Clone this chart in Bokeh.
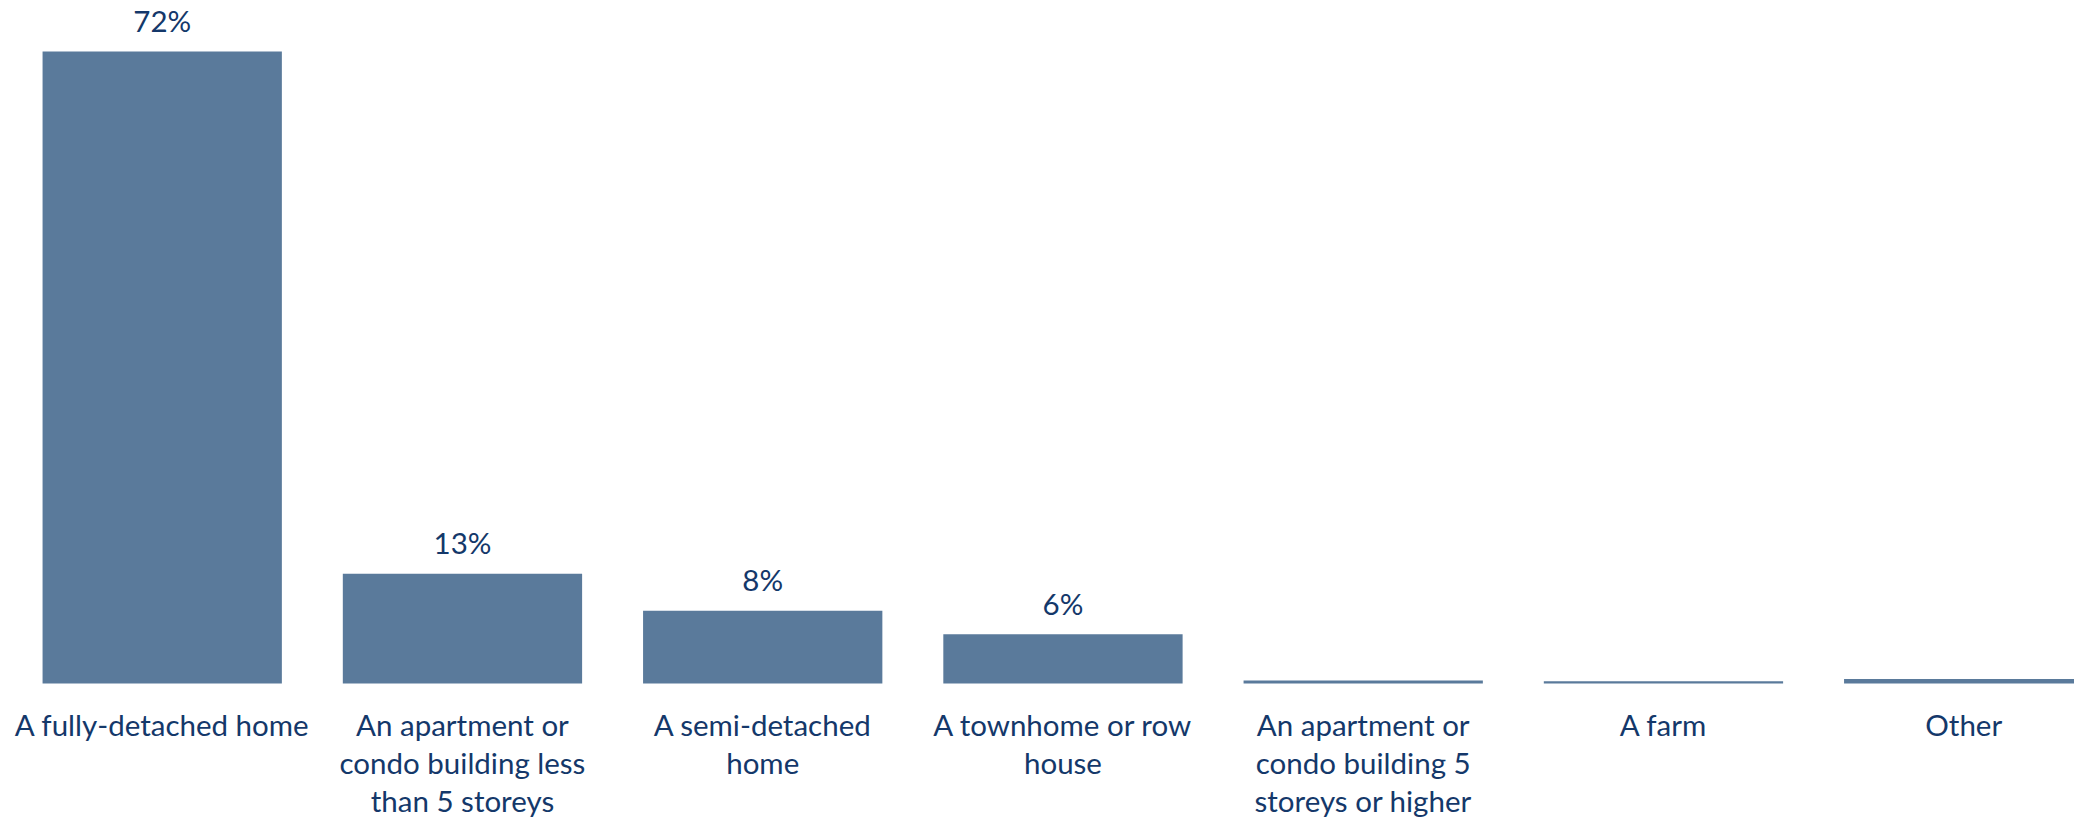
from bokeh.plotting import figure
from bokeh.models import Range1d, ColumnDataSource
from bokeh.core.properties import value
from bokeh.embed import file_html
from bokeh.resources import INLINE

categories = [
    "A fully-detached home",
    "An apartment or\ncondo building less\nthan 5 storeys",
    "A semi-detached\nhome",
    "A townhome or row\nhouse",
    "An apartment or\ncondo building 5\nstoreys or higher",
    "A farm",
    "Other",
]
values = [72.0, 12.5, 8.3, 5.6, 0.35, 0.25, 0.5]
value_labels = ["72%", "13%", "8%", "6%", "", "", ""]

positions = list(range(len(categories)))

BAR = "#5A7A9B"
TXT = "#14386A"
FONT = "Lato"

p = figure(width=2074, height=820, output_backend="svg", toolbar_location=None,
           x_range=Range1d(-0.5386, 6.369), y_range=Range1d(-15.61, 77.81),
           min_border=0, min_border_left=0, min_border_right=0,
           min_border_top=0, min_border_bottom=0)
p.axis.visible = False
p.grid.visible = False
p.outline_line_color = None
p.background_fill_color = "white"
p.border_fill_color = "white"

src = ColumnDataSource(dict(x=positions, top=values, lab=value_labels))

p.vbar(x="x", top="top", bottom=0, width=0.797, source=src,
       fill_color=BAR, line_color=None)

p.text(x="x", y="top", text="lab", source=src, y_offset=-31,
       text_align="center", text_baseline="alphabetic",
       text_font=value(FONT), text_font_size="29.5px", text_color=TXT)

cat_y = [-2.7] * len(categories)
src2 = ColumnDataSource(dict(x=positions, y=cat_y, cat=categories))
p.text(x="x", y="y", text="cat", source=src2,
       text_align="center", text_baseline="top", text_line_height=1.08,
       text_font=value(FONT), text_font_size="29.5px", text_color=TXT)

open("out.html", "w").write(file_html(p, INLINE))
